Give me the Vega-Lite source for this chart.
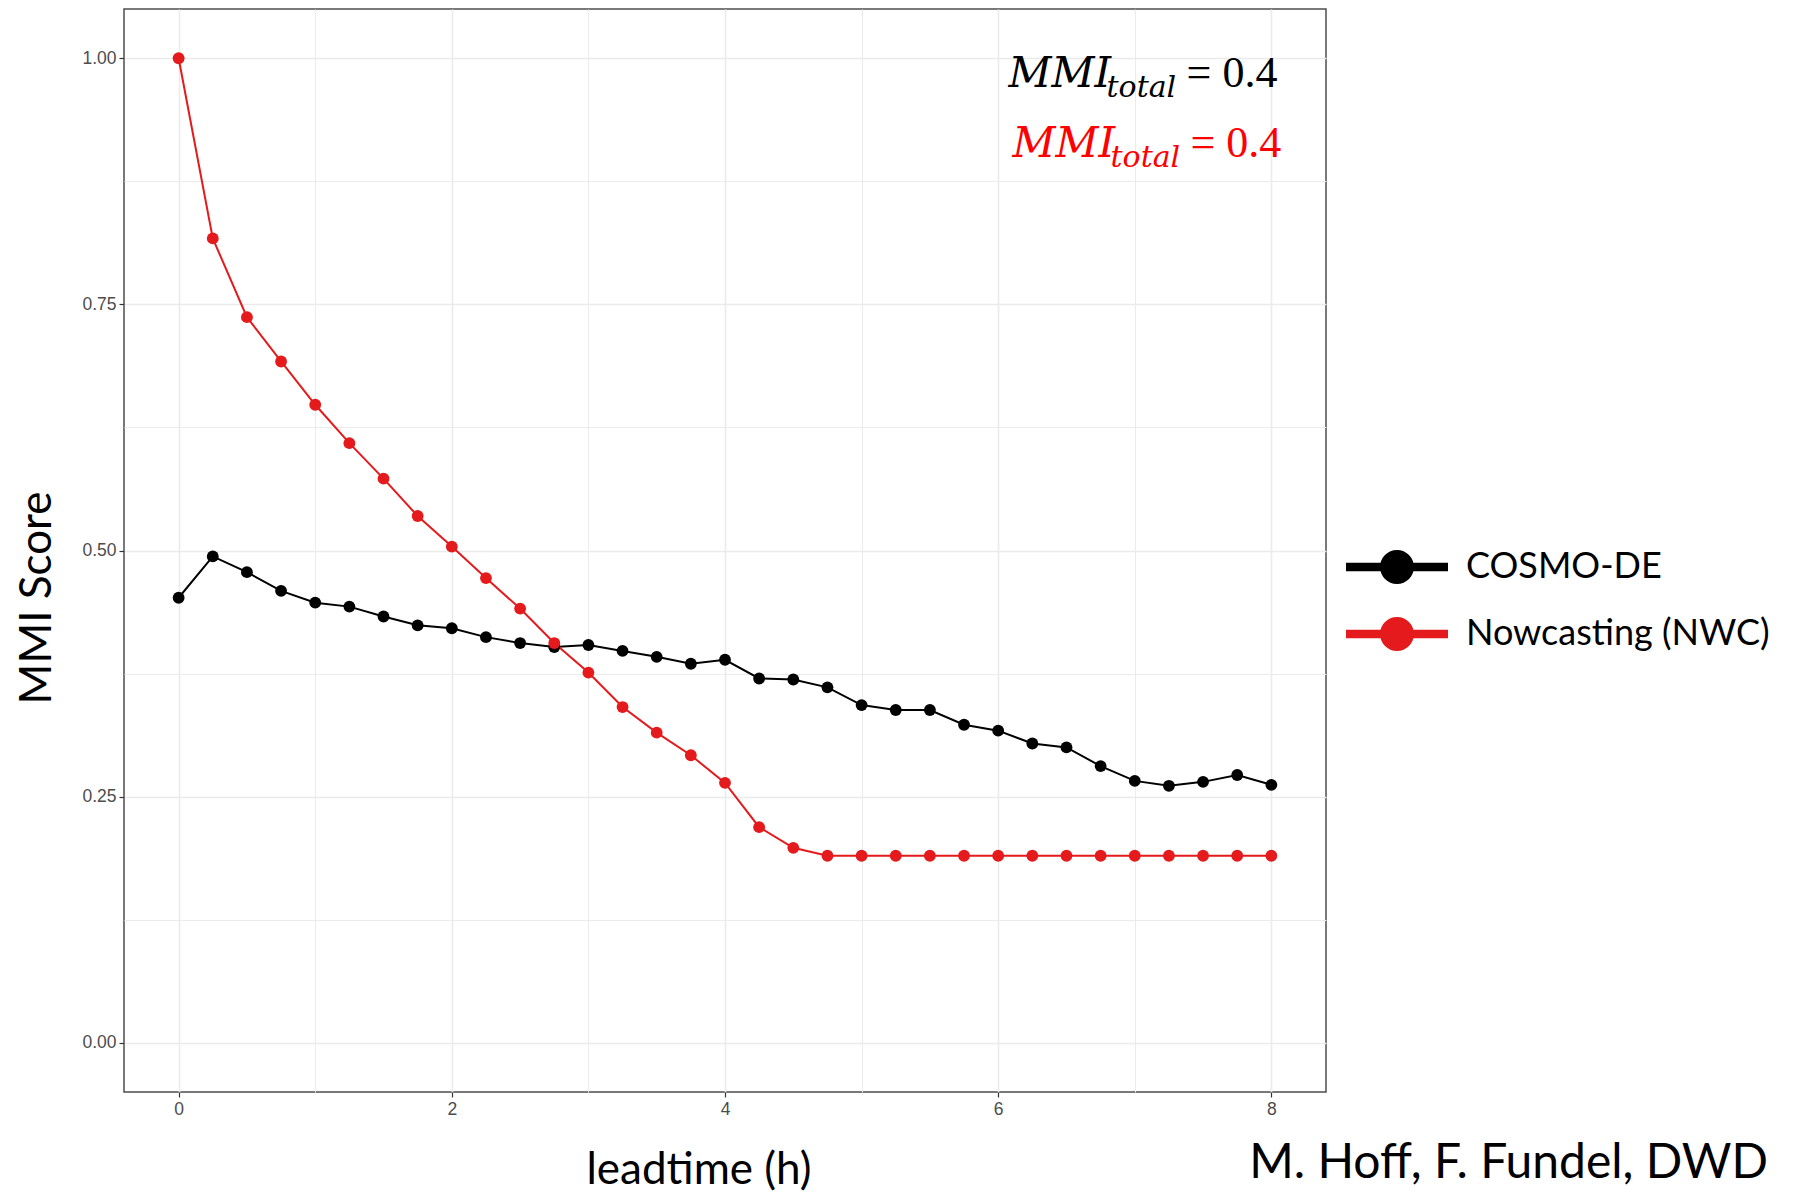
{
  "$schema": "https://vega.github.io/schema/vega-lite/v6.json",
  "width": 1202,
  "height": 1083,
  "autosize": "none",
  "padding": {"left": 124, "top": 9, "right": 472, "bottom": 100},
  "background": "white",
  "config": {
    "view": {"stroke": "#4d4d4d", "strokeWidth": 1.5},
    "axis": {
      "domain": false,
      "grid": true,
      "gridColor": "#ebebeb",
      "tickColor": "#333333",
      "tickSize": 5,
      "tickWidth": 1.2,
      "labelFont": "Liberation Sans",
      "labelFontSize": 17.5,
      "labelColor": "#4d4d4d",
      "labelPadding": 3,
      "titleFont": "Lato",
      "titleFontSize": 44,
      "titleFontWeight": "normal",
      "titleColor": "#000000"
    }
  },
  "title": {
    "text": "M. Hoff, F. Fundel, DWD",
    "orient": "bottom",
    "anchor": "end",
    "frame": "group",
    "font": "Lato",
    "fontSize": 48,
    "fontWeight": "normal",
    "color": "#000000",
    "dx": 442,
    "dy": -52,
    "offset": 0
  },
  "datasets": {
    "scores": [
      {"leadtime": 0, "score": 0.452, "model": "COSMO-DE"},
      {"leadtime": 0.25, "score": 0.494, "model": "COSMO-DE"},
      {"leadtime": 0.5, "score": 0.478, "model": "COSMO-DE"},
      {"leadtime": 0.75, "score": 0.459, "model": "COSMO-DE"},
      {"leadtime": 1, "score": 0.447, "model": "COSMO-DE"},
      {"leadtime": 1.25, "score": 0.443, "model": "COSMO-DE"},
      {"leadtime": 1.5, "score": 0.433, "model": "COSMO-DE"},
      {"leadtime": 1.75, "score": 0.424, "model": "COSMO-DE"},
      {"leadtime": 2, "score": 0.421, "model": "COSMO-DE"},
      {"leadtime": 2.25, "score": 0.412, "model": "COSMO-DE"},
      {"leadtime": 2.5, "score": 0.406, "model": "COSMO-DE"},
      {"leadtime": 2.75, "score": 0.402, "model": "COSMO-DE"},
      {"leadtime": 3, "score": 0.404, "model": "COSMO-DE"},
      {"leadtime": 3.25, "score": 0.398, "model": "COSMO-DE"},
      {"leadtime": 3.5, "score": 0.392, "model": "COSMO-DE"},
      {"leadtime": 3.75, "score": 0.385, "model": "COSMO-DE"},
      {"leadtime": 4, "score": 0.389, "model": "COSMO-DE"},
      {"leadtime": 4.25, "score": 0.370, "model": "COSMO-DE"},
      {"leadtime": 4.5, "score": 0.369, "model": "COSMO-DE"},
      {"leadtime": 4.75, "score": 0.361, "model": "COSMO-DE"},
      {"leadtime": 5, "score": 0.343, "model": "COSMO-DE"},
      {"leadtime": 5.25, "score": 0.338, "model": "COSMO-DE"},
      {"leadtime": 5.5, "score": 0.338, "model": "COSMO-DE"},
      {"leadtime": 5.75, "score": 0.323, "model": "COSMO-DE"},
      {"leadtime": 6, "score": 0.317, "model": "COSMO-DE"},
      {"leadtime": 6.25, "score": 0.304, "model": "COSMO-DE"},
      {"leadtime": 6.5, "score": 0.300, "model": "COSMO-DE"},
      {"leadtime": 6.75, "score": 0.281, "model": "COSMO-DE"},
      {"leadtime": 7, "score": 0.266, "model": "COSMO-DE"},
      {"leadtime": 7.25, "score": 0.261, "model": "COSMO-DE"},
      {"leadtime": 7.5, "score": 0.265, "model": "COSMO-DE"},
      {"leadtime": 7.75, "score": 0.272, "model": "COSMO-DE"},
      {"leadtime": 8, "score": 0.262, "model": "COSMO-DE"},
      {"leadtime": 0, "score": 1.0, "model": "Nowcasting (NWC)"},
      {"leadtime": 0.25, "score": 0.817, "model": "Nowcasting (NWC)"},
      {"leadtime": 0.5, "score": 0.737, "model": "Nowcasting (NWC)"},
      {"leadtime": 0.75, "score": 0.692, "model": "Nowcasting (NWC)"},
      {"leadtime": 1, "score": 0.648, "model": "Nowcasting (NWC)"},
      {"leadtime": 1.25, "score": 0.609, "model": "Nowcasting (NWC)"},
      {"leadtime": 1.5, "score": 0.573, "model": "Nowcasting (NWC)"},
      {"leadtime": 1.75, "score": 0.535, "model": "Nowcasting (NWC)"},
      {"leadtime": 2, "score": 0.504, "model": "Nowcasting (NWC)"},
      {"leadtime": 2.25, "score": 0.472, "model": "Nowcasting (NWC)"},
      {"leadtime": 2.5, "score": 0.441, "model": "Nowcasting (NWC)"},
      {"leadtime": 2.75, "score": 0.406, "model": "Nowcasting (NWC)"},
      {"leadtime": 3, "score": 0.376, "model": "Nowcasting (NWC)"},
      {"leadtime": 3.25, "score": 0.341, "model": "Nowcasting (NWC)"},
      {"leadtime": 3.5, "score": 0.315, "model": "Nowcasting (NWC)"},
      {"leadtime": 3.75, "score": 0.292, "model": "Nowcasting (NWC)"},
      {"leadtime": 4, "score": 0.264, "model": "Nowcasting (NWC)"},
      {"leadtime": 4.25, "score": 0.219, "model": "Nowcasting (NWC)"},
      {"leadtime": 4.5, "score": 0.198, "model": "Nowcasting (NWC)"},
      {"leadtime": 4.75, "score": 0.190, "model": "Nowcasting (NWC)"},
      {"leadtime": 5, "score": 0.190, "model": "Nowcasting (NWC)"},
      {"leadtime": 5.25, "score": 0.190, "model": "Nowcasting (NWC)"},
      {"leadtime": 5.5, "score": 0.190, "model": "Nowcasting (NWC)"},
      {"leadtime": 5.75, "score": 0.190, "model": "Nowcasting (NWC)"},
      {"leadtime": 6, "score": 0.190, "model": "Nowcasting (NWC)"},
      {"leadtime": 6.25, "score": 0.190, "model": "Nowcasting (NWC)"},
      {"leadtime": 6.5, "score": 0.190, "model": "Nowcasting (NWC)"},
      {"leadtime": 6.75, "score": 0.190, "model": "Nowcasting (NWC)"},
      {"leadtime": 7, "score": 0.190, "model": "Nowcasting (NWC)"},
      {"leadtime": 7.25, "score": 0.190, "model": "Nowcasting (NWC)"},
      {"leadtime": 7.5, "score": 0.190, "model": "Nowcasting (NWC)"},
      {"leadtime": 7.75, "score": 0.190, "model": "Nowcasting (NWC)"},
      {"leadtime": 8, "score": 0.190, "model": "Nowcasting (NWC)"}
    ],
    "totals": [
      {"model": "COSMO-DE", "leadtime": 6.076, "score": 0.9706, "label": "= 0.4"},
      {"model": "Nowcasting (NWC)", "leadtime": 6.105, "score": 0.8995, "label": "= 0.4"}
    ]
  },
  "layer": [
    {
      "data": {"name": "scores"},
      "mark": {"type": "line", "strokeWidth": 2},
      "encoding": {
        "x": {
          "field": "leadtime", "type": "quantitative",
          "scale": {"domain": [-0.4, 8.4], "nice": false, "zero": false},
          "axis": {
            "values": [0, 1, 2, 3, 4, 5, 6, 7, 8],
            "labelExpr": "datum.value % 2 === 0 ? format(datum.value, 'd') : ''",
            "gridWidth": {"condition": {"test": "datum.value % 2 !== 0", "value": 1}, "value": 1.6},
            "tickOpacity": {"condition": {"test": "datum.value % 2 !== 0", "value": 0}, "value": 1},
            "title": "leadtime (h)",
            "titleX": 574.5,
            "titleY": 91,
            "titleAlign": "center",
            "titleBaseline": "alphabetic"
          }
        },
        "y": {
          "field": "score", "type": "quantitative",
          "scale": {"domain": [-0.05, 1.05], "nice": false, "zero": false},
          "axis": {
            "values": [0, 0.125, 0.25, 0.375, 0.5, 0.625, 0.75, 0.875, 1],
            "labelExpr": "(round(datum.value * 8)) % 2 === 0 ? format(datum.value, '.2f') : ''",
            "gridWidth": {"condition": {"test": "(round(datum.value * 8)) % 2 !== 0", "value": 1}, "value": 1.6},
            "tickOpacity": {"condition": {"test": "(round(datum.value * 8)) % 2 !== 0", "value": 0}, "value": 1},
            "title": "MMI Score",
            "titleX": -74,
            "titleY": 588.5,
            "titleAngle": -90,
            "titleAlign": "center",
            "titleBaseline": "alphabetic"
          }
        },
        "color": {
          "field": "model", "type": "nominal",
          "scale": {"domain": ["COSMO-DE", "Nowcasting (NWC)"], "range": ["#000000", "#e41a1c"]},
          "legend": {
            "orient": "none",
            "legendX": 1255,
            "legendY": 540,
            "title": null,
            "padding": 0,
            "symbolType": "M-3,-0.25H3V0.25H-3Z M1,0A1,1 0 1,1 -1,0A1,1 0 1,1 1,0Z",
            "symbolSize": 1156,
            "symbolStrokeWidth": 0,
            "labelFont": "Lato",
            "labelFontSize": 36,
            "labelColor": "#000000",
            "labelOffset": 51,
            "labelLimit": 600,
            "rowPadding": 31,
            "encode": {
              "symbols": {
                "update": {
                  "fill": {"signal": "datum.value === 'COSMO-DE' ? '#000000' : '#ff0000'"},
                  "stroke": {"value": "transparent"},
                  "opacity": {"value": 1}
                }
              }
            }
          }
        }
      }
    },
    {
      "data": {"name": "scores"},
      "mark": {"type": "point", "filled": true, "size": 140, "opacity": 1},
      "encoding": {
        "x": {"field": "leadtime", "type": "quantitative"},
        "y": {"field": "score", "type": "quantitative"},
        "color": {"field": "model", "type": "nominal"}
      }
    },
    {
      "data": {"name": "totals"},
      "mark": {"type": "text", "text": "MMI", "font": "DejaVu Serif", "fontStyle": "italic", "fontSize": 42, "align": "left", "baseline": "alphabetic"},
      "encoding": {
        "x": {"field": "leadtime", "type": "quantitative"},
        "y": {"field": "score", "type": "quantitative"},
        "color": {"condition": {"test": "datum.model === 'COSMO-DE'", "value": "#000000"}, "value": "#ff0000"}
      }
    },
    {
      "data": {"name": "totals"},
      "mark": {"type": "text", "text": "total", "font": "DejaVu Serif", "fontStyle": "italic", "fontSize": 30, "align": "left", "baseline": "alphabetic", "dx": 98, "dy": 10},
      "encoding": {
        "x": {"field": "leadtime", "type": "quantitative"},
        "y": {"field": "score", "type": "quantitative"},
        "color": {"condition": {"test": "datum.model === 'COSMO-DE'", "value": "#000000"}, "value": "#ff0000"}
      }
    },
    {
      "data": {"name": "totals"},
      "mark": {"type": "text", "font": "Liberation Serif", "fontSize": 44, "align": "left", "baseline": "alphabetic", "dx": 178},
      "encoding": {
        "x": {"field": "leadtime", "type": "quantitative"},
        "y": {"field": "score", "type": "quantitative"},
        "text": {"field": "label"},
        "color": {"condition": {"test": "datum.model === 'COSMO-DE'", "value": "#000000"}, "value": "#ff0000"}
      }
    }
  ]
}
